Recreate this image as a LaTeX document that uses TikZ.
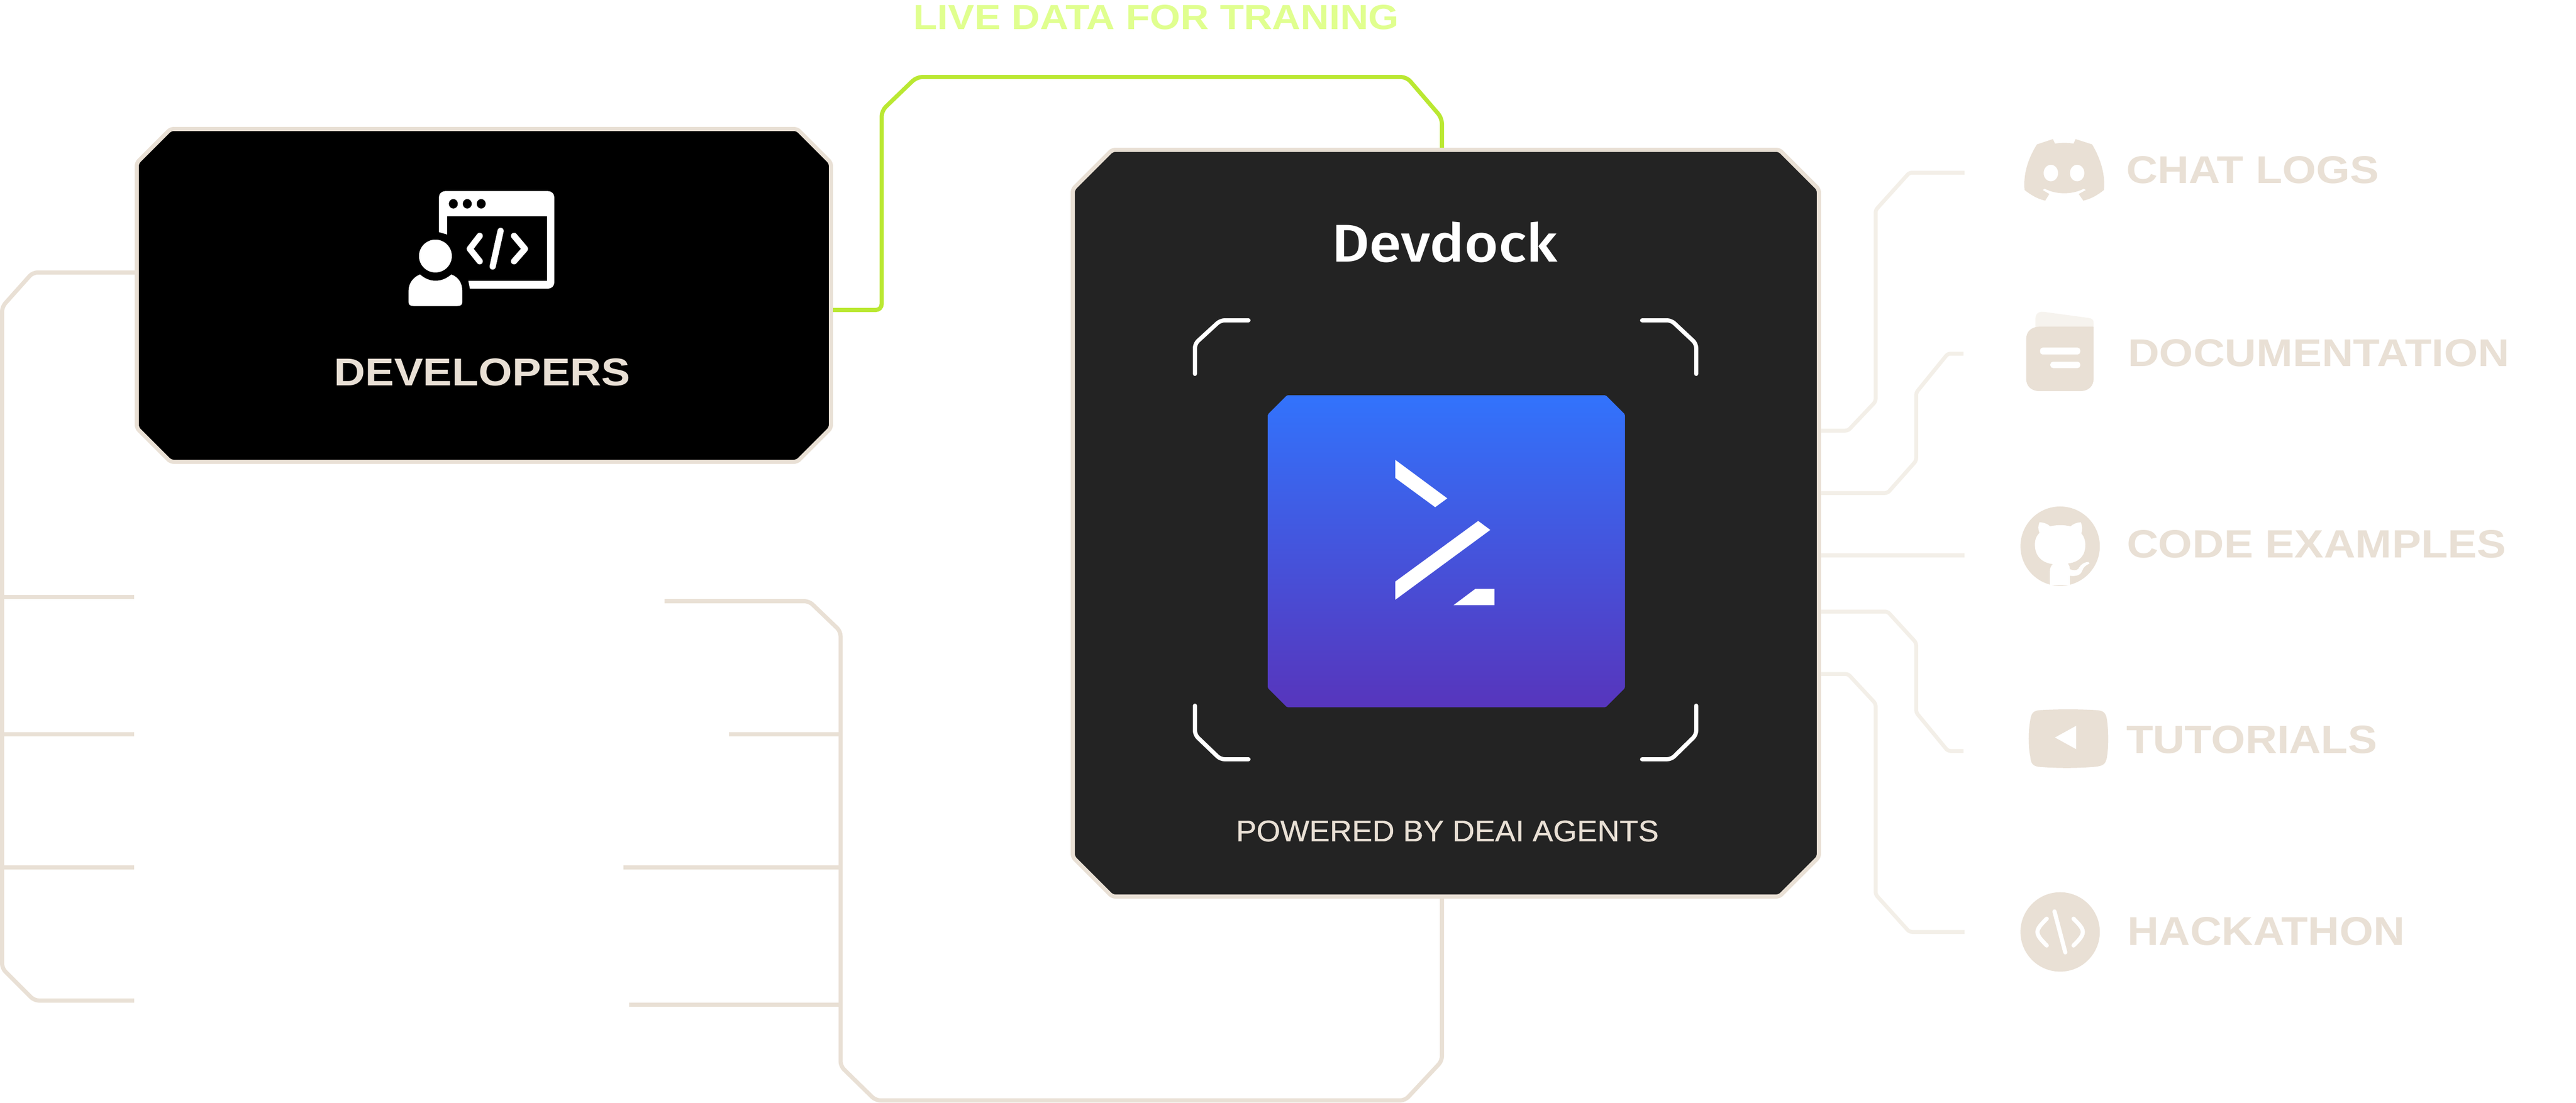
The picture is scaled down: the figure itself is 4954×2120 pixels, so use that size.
\documentclass[tikz,border=0pt]{standalone}
\usepackage{fontspec}
\usepackage{graphicx}
\setmainfont{Liberation Sans}
\newfontfamily\dockfont{Fira Sans Medium}
\newfontfamily\poweredfont[FakeBold=0.6]{Liberation Sans}
\newcommand{\fittext}[3]{\resizebox{#1pt}{#2pt}{\fontsize{40}{40}\selectfont #3}}
\newcommand{\chamferpath}[5]{({#1-#3/2+#5},{#2-#4/2}) -- ({#1+#3/2-#5},{#2-#4/2}) -- ({#1+#3/2},{#2-#4/2+#5}) -- ({#1+#3/2},{#2+#4/2-#5}) -- ({#1+#3/2-#5},{#2+#4/2}) -- ({#1-#3/2+#5},{#2+#4/2}) -- ({#1-#3/2},{#2+#4/2-#5}) -- ({#1-#3/2},{#2-#4/2+#5}) -- cycle}
\definecolor{cream}{HTML}{E9E0D5}
\definecolor{paleline}{HTML}{F3EFE8}
\definecolor{paleflap}{HTML}{F6F3EE}
\definecolor{limeline}{HTML}{BAE832}
\definecolor{limetext}{HTML}{E0FF8F}
\definecolor{dockfill}{HTML}{232323}
\definecolor{blueTop}{HTML}{3273FC}
\definecolor{blueBot}{HTML}{5735BC}
\tikzset{
  x=1pt,y=-1pt,
  boxoutline/.style={line width=8pt,draw=cream,rounded corners=6pt},
  boxanchor/.style={rectangle,inner sep=0pt,outer sep=4pt,draw=none},
  label/.style={inner sep=0pt,outer sep=0pt,anchor=center},
  creamtext/.style={label,text=cream},
  wire/.style={line width=8pt,draw=cream,rounded corners=9pt},
  palewire/.style={line width=7.5pt,draw=paleline,rounded corners=5pt},
  limewire/.style={line width=8pt,draw=limeline,rounded corners=11pt},
  corner/.style={line width=8pt,draw=white,line cap=round,rounded corners=8pt},
  zoomDev/.style={shift={(200,200)},xscale=0.957,yscale=0.4785},
  zoomTop/.style={shift={(3400,220)},xscale=0.991,yscale=0.5102},
  zoomLow/.style={shift={(3400,1000)},xscale=0.991,yscale=0.606},
}
\begin{document}
\begin{tikzpicture}
\useasboundingbox (0,0) rectangle (4954,2120);
% main boxes
\path[boxoutline,fill=black] \chamferpath{930.5}{568}{1335}{640}{65};
\node[boxanchor,minimum width=1335pt,minimum height=640pt] (dev) at (930.5,568) {};
\path[boxoutline,fill=dockfill] \chamferpath{2780.5}{1006}{1435}{1436}{76};
\node[boxanchor,minimum width=1435pt,minimum height=1436pt] (dock) at (2780.5,1006) {};
\path[top color=blueTop,bottom color=blueBot,rounded corners=2pt] \chamferpath{2781.5}{1060}{687}{600}{37};
\node[boxanchor,outer sep=0pt,minimum width=687pt,minimum height=600pt] (logo) at (2781.5,1060) {};

% free ends
\coordinate (leftA) at (258,1148);
\coordinate (leftB) at (258,1412);
\coordinate (leftC) at (258,1668);
\coordinate (leftD) at (258,1924);
\coordinate (midA) at (1278,1156);
\coordinate (midB) at (1402,1412);
\coordinate (midC) at (1199,1668);
\coordinate (midD) at (1210,1932);
\coordinate (chatEnd) at (3778,332);
\coordinate (docEnd) at (3776,680);
\coordinate (codeEnd) at (3778,1068);
\coordinate (tutEnd) at (3776,1444);
\coordinate (hackEnd) at (3778,1792);

% left tree
\draw[wire] (dev.west |- 0,524) -- (63,524) -- (4,590) -- (4,1862) -- (66,1924) -- (leftD);
\draw[wire,rounded corners=0pt] (4,1148) -- (leftA);
\draw[wire,rounded corners=0pt] (4,1412) -- (leftB);
\draw[wire,rounded corners=0pt] (4,1668) -- (leftC);
% middle tree
\draw[wire] (midA) -- (1556,1156) -- (1616.5,1214) -- (1616.5,2050) -- (1684,2116) -- (2702,2116) -- (2773,2040) -- (dock.south -| 2773,0);
\draw[wire,rounded corners=0pt] (midB) -- (1616.5,1412);
\draw[wire,rounded corners=0pt] (midC) -- (1616.5,1668);
\draw[wire,rounded corners=0pt] (midD) -- (1616.5,1932);
% live data
\draw[limewire] (dev.east |- 0,596) -- (1695.5,596) -- (1695.5,213) -- (1763,148) -- (2705,148) -- (2773,227) -- (dock.north -| 2773,0);
% right connectors
\draw[palewire] (dock.east |- 0,828) -- (3554,828) -- (3607,772) -- (3607,404) -- (3672,332) -- (chatEnd);
\draw[palewire] (dock.east |- 0,948) -- (3630,948) -- (3685,886) -- (3685,755) -- (3746,680) -- (docEnd);
\draw[palewire] (dock.east |- 0,1068) -- (codeEnd);
\draw[palewire] (dock.east |- 0,1176) -- (3630,1176) -- (3685,1236) -- (3685,1370) -- (3746,1444) -- (tutEnd);
\draw[palewire] (dock.east |- 0,1296) -- (3554,1296) -- (3607,1353) -- (3607,1720) -- (3672,1792) -- (hackEnd);

% scan corners
\draw[corner] (2298,719) -- (2298,661) -- (2347,616) -- (2401,616);
\draw[corner] (3158,616) -- (3214,616) -- (3262,661) -- (3262,719);
\draw[corner] (2298,1357) -- (2298,1413) -- (2347,1460) -- (2401,1460);
\draw[corner] (3158,1460) -- (3214,1460) -- (3262,1413) -- (3262,1357);

% logo mark
\fill[white] (2683.3,884.3) -- (2783.3,958.3) -- (2760,975.3) -- (2683.3,919) -- cycle;
\fill[white] (2683.3,1118.3) -- (2842.7,1001.7) -- (2866,1019) -- (2683.3,1153.3) -- cycle;
\fill[white] (2795.3,1163.7) -- (2837.3,1132.3) -- (2874,1132.3) -- (2874,1163.7) -- cycle;

% developer icon
\begin{scope}[zoomDev]
  \fill[white,rounded corners=12pt] (673,350) rectangle (905,742);
  \fill[black] (690,452) rectangle (890,710);
  \fill[black] (660,518) -- (673,515) -- (690,525) -- (700,600) -- (732,710) -- (736,750) -- (600,770) -- (600,600) -- cycle;
  \fill[white] (666,611) ellipse [x radius=33,y radius=66];
  \fill[white] (635,685) .. controls (645,702) and (655,710) .. (666,710) .. controls (678,710) and (688,702) .. (698,685) .. controls (712,695) and (720,720) .. (720,750) -- (720,797) .. controls (720,807) and (716,812) .. (710,812) -- (622,812) .. controls (616,812) and (612,807) .. (612,797) -- (612,750) .. controls (612,720) and (622,695) .. (635,685) -- cycle;
  \foreach \dotx in {702,730,758} \fill[black] (\dotx,401) ellipse [x radius=9,y radius=19];
  \draw[white,line width=12pt,line cap=round,line join=round] (755,530) -- (735,582) -- (755,632);
  \draw[white,line width=12pt,line cap=round] (797,510) -- (781,653);
  \draw[white,line width=12pt,line cap=round,line join=round] (824,530) -- (846,582) -- (824,632);
\end{scope}

% discord icon
\begin{scope}[zoomTop]
  \fill[cream] (522,113) -- (553,93) -- (557,110) .. controls (570,106) and (580,106) .. (593,110) -- (597,93) -- (629,113) .. controls (645,165) and (655,225) .. (652,285) .. controls (640,303) and (628,318) .. (612,325) -- (603,300) -- (617,285) -- (613,280) .. controls (590,303) and (560,303) .. (537,280) -- (533,285) -- (546,300) -- (538,325) .. controls (522,318) and (510,303) .. (498,285) .. controls (495,225) and (505,165) .. (522,113) -- cycle;
  \fill[white] (549,221) ellipse [x radius=14,y radius=31];
  \fill[white] (600,221) ellipse [x radius=14,y radius=31];
  % documentation icon
  \fill[paleflap] (519,803) -- (519,770) .. controls (519,752) and (525,742) .. (535,744) -- (622,767) .. controls (630,770) and (632,775) .. (632,785) -- (632,795) .. controls (632,800) and (628,803) .. (622,803) -- cycle;
  \fill[cream] (528,800) -- (632,800) -- (632,995) .. controls (632,1025) and (622,1043) .. (605,1043) -- (528,1043) .. controls (511,1043) and (501,1025) .. (501,995) -- (501,848) .. controls (501,818) and (511,800) .. (528,800) -- cycle;
  \fill[white,rounded corners=5pt] (528,879) rectangle (606,905);
  \fill[white,rounded corners=5pt] (548,932) rectangle (606,956);
\end{scope}

% github icon
\begin{scope}[zoomLow]
  \fill[cream] (567,83) ellipse [x radius=77,y radius=126];
  \fill[white] (527,7) .. controls (535,7) and (545,14) .. (547,20) .. controls (560,15) and (575,15) .. (587,20) .. controls (592,13) and (600,7) .. (607,7) .. controls (610,20) and (611,30) .. (608,42) .. controls (613,52) and (616,65) .. (616,78) .. controls (616,112) and (605,133) .. (582,138) .. controls (585,145) and (586,150) .. (586,156) .. controls (592,160) and (598,161) .. (602,155) .. controls (607,142) and (612,134) .. (622,133) -- (624,138) .. controls (617,143) and (612,150) .. (610,160) .. controls (607,176) and (597,179) .. (586,177) -- (586,206) -- (547,206) -- (547,165) .. controls (547,153) and (549,145) .. (553,140) .. controls (530,135) and (518,112) .. (518,78) .. controls (518,62) and (521,50) .. (527,41) .. controls (524,30) and (524,18) .. (527,7) -- cycle;
  % tutorials icon
  \fill[cream] (530,603) .. controls (565,600) and (600,600) .. (635,603) .. controls (652,604) and (656,612) .. (658,635) .. controls (661,670) and (661,720) .. (658,750) .. controls (656,775) and (650,780) .. (635,783) .. controls (600,788) and (560,788) .. (525,783) .. controls (513,780) and (510,770) .. (509,750) .. controls (505,720) and (505,670) .. (509,635) .. controls (511,612) and (515,604) .. (530,603) -- cycle;
  \fill[white] (557,690) -- (598,653) -- (598,727) -- cycle;
  % hackathon icon
  \fill[cream] (567,1307) ellipse [x radius=77,y radius=126];
  \draw[white,line width=8pt,line cap=round] (556,1242) -- (577,1372);
  \draw[white,line width=8pt,line cap=round] (541,1265) .. controls (530,1283) and (523,1295) .. (523,1307) .. controls (523,1320) and (530,1332) .. (541,1350);
  \draw[white,line width=8pt,line cap=round] (593,1265) .. controls (604,1283) and (611,1295) .. (611,1307) .. controls (611,1320) and (604,1332) .. (593,1350);
\end{scope}

% texts
\node[creamtext] (devlabel) at (927.5,715.5) {\fittext{570}{52}{\bfseries DEVELOPERS}};
\node[label,text=white] (docktitle) at (2778,465.5) {\fittext{434}{77}{\dockfont Devdock}};
\node[creamtext] (powered) at (2783.5,1598) {\fittext{813}{40}{\poweredfont POWERED BY DEAI AGENTS}};
\node[label,text=limetext] (live) at (2223.5,33.5) {\fittext{934}{47}{\bfseries LIVE DATA FOR TRANING}};
\node[creamtext] (chat) at (4332,327) {\fittext{486}{52}{\bfseries CHAT LOGS}};
\node[creamtext] (docs) at (4459,679) {\fittext{734}{52}{\bfseries DOCUMENTATION}};
\node[creamtext] (code) at (4455,1046.5) {\fittext{730}{53}{\bfseries CODE EXAMPLES}};
\node[creamtext] (tut) at (4330.5,1422.5) {\fittext{483}{53}{\bfseries TUTORIALS}};
\node[creamtext] (hack) at (4358,1791) {\fittext{534}{54}{\bfseries HACKATHON}};
\end{tikzpicture}
\end{document}
